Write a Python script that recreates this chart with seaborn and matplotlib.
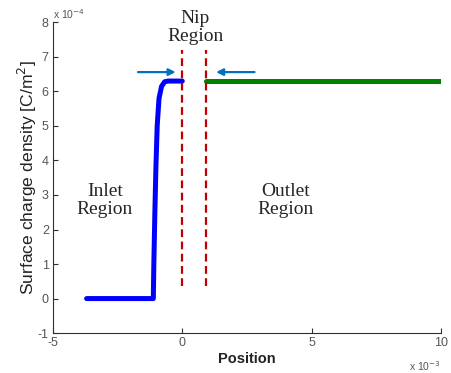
import matplotlib
matplotlib.use("Agg")
import matplotlib.pyplot as plt
import seaborn as sns
import pandas as pd

# Data (x in units of 1e-3, y in units of 1e-4)
inlet_x = [-3.7, -1.12, -1.10, -1.06, -1.02, -0.97, -0.90, -0.80, -0.68, -0.55, 0.0]
inlet_y = [0.0, 0.0, 1.0, 2.5, 3.8, 5.0, 5.8, 6.15, 6.28, 6.3, 6.3]
outlet_x = [0.9, 10.0]
outlet_y = [6.3, 6.3]
nip_x = [0.0, 0.9]
nip_y_range = [0.35, 7.2]
arrow_y = 6.56
arrow_left = [-1.82, -0.15]
arrow_right = [2.9, 1.2]
xticks = [-5, 0, 5, 10]
yticks = [-1, 0, 1, 2, 3, 4, 5, 6, 7, 8]

sns.set_style("ticks")
plt.rcParams["font.family"] = ["Liberation Sans", "DejaVu Sans"]
plt.rcParams["axes.unicode_minus"] = False

fig = plt.figure(figsize=(4.51, 3.73), dpi=100)
ax = fig.add_axes([0.1175, 0.107, 0.86, 0.833])

df_in = pd.DataFrame({"x": inlet_x, "y": inlet_y})
df_out = pd.DataFrame({"x": outlet_x, "y": outlet_y})
sns.lineplot(data=df_in, x="x", y="y", ax=ax, color="#0000ff", lw=3.6, sort=False)
sns.lineplot(data=df_out, x="x", y="y", ax=ax, color="#008000", lw=3.6, sort=False)

for xv in nip_x:
    ax.plot([xv, xv], nip_y_range, color="#c00000", lw=1.6, ls=(0, (3.5, 2)))

ap = dict(arrowstyle="-|>", color="#0070c0", lw=1.6, mutation_scale=10)
ax.annotate("", xy=(arrow_left[1], arrow_y), xytext=(arrow_left[0], arrow_y), arrowprops=ap)
ax.annotate("", xy=(arrow_right[1], arrow_y), xytext=(arrow_right[0], arrow_y), arrowprops=ap)

serif = ["Liberation Serif", "DejaVu Serif"]
ax.text(0.5, 7.85, "Nip\nRegion", ha="center", va="center", fontsize=14, family=serif,
        linespacing=1.12, clip_on=False)
ax.text(-3.0, 2.84, "Inlet\nRegion", ha="center", va="center", fontsize=14, family=serif,
        linespacing=1.12)
ax.text(4.0, 2.84, "Outlet\nRegion", ha="center", va="center", fontsize=14, family=serif,
        linespacing=1.12)

ax.set_xlim(-5, 10)
ax.set_ylim(-1, 8)
ax.set_xticks(xticks)
ax.set_yticks(yticks)
ax.tick_params(direction="in", length=3.5, width=0.8, labelsize=9, colors="#303030",
               labelcolor="#555555", pad=3)
for s in ["top", "right"]:
    ax.spines[s].set_visible(False)
for s in ["left", "bottom"]:
    ax.spines[s].set_color("#303030")
    ax.spines[s].set_linewidth(0.8)

ax.set_xlabel("Position", fontsize=10.5, fontweight="bold", color="#222222", labelpad=2)
ax.set_ylabel("Surface charge density [C/m$^2$]", fontsize=12.6, color="#222222", labelpad=-1)

ax.text(0.0, 1.005, "x 10$^{-4}$", transform=ax.transAxes, fontsize=7.5, color="#555555",
        ha="left", va="bottom")
ax.text(1.0, -0.085, "x 10$^{-3}$", transform=ax.transAxes, fontsize=7.5, color="#555555",
        ha="right", va="top")

fig.savefig("out.png", dpi=100)
